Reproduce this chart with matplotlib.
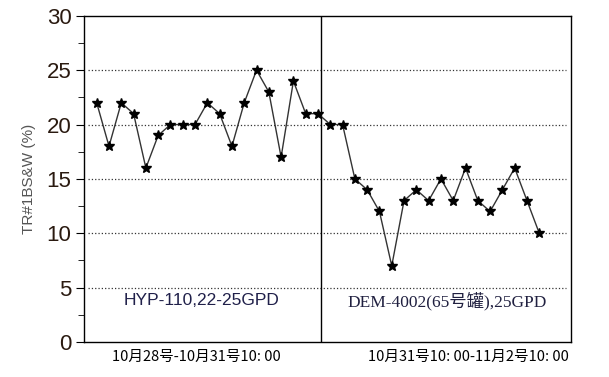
import matplotlib.pyplot as plt
from matplotlib.ticker import MultipleLocator

plt.rcParams['font.family'] = ['Liberation Sans', 'Noto Sans CJK SC']

# BS&W readings, first period (HYP-110) then second period (DEM-4002)
hyp_values = [22, 18, 22, 21, 16, 19, 20, 20, 20, 22, 21, 18, 22, 25, 23, 17, 24, 21, 21]
dem_values = [20, 20, 15, 14, 12, 7, 13, 14, 13, 15, 13, 16, 13, 12, 14, 16, 13, 10]
values = hyp_values + dem_values
sample_no = list(range(len(values)))

split_at = 18.25
y_ticks = [0, 5, 10, 15, 20, 25, 30]
grid_levels = [5, 10, 15, 20, 25]
period_names = ['HYP-110,22-25GPD', 'DEM-4002(65号罐),25GPD']
period_times = ['10月28号-10月31号10: 00', '10月31号10: 00-11月2号10: 00']

fig = plt.figure(figsize=(6.09, 3.77), dpi=100)
ax = fig.add_axes([0.138, 0.093, 0.800, 0.865])

for lvl in grid_levels:
  ax.axhline(lvl, xmin=0.008, xmax=0.99, color='#333333', linestyle=':', linewidth=0.9, zorder=1)

ax.plot(sample_no, values, color='#333333', linewidth=1.0, marker='*',
        markersize=7.5, markerfacecolor='black', markeredgecolor='black', zorder=3)

ax.axvline(split_at, color='black', linewidth=1.0)

ax.set_xlim(-1.03, 38.6)
ax.set_ylim(0, 30)
ax.set_yticks(y_ticks)
ax.yaxis.set_minor_locator(MultipleLocator(2.5))
ax.tick_params(axis='y', which='major', direction='out', length=6, labelsize=16, labelcolor='#2a1a10', pad=3)
ax.tick_params(axis='y', which='minor', direction='out', length=4)
ax.set_xticks([])
for side in ax.spines.values():
  side.set_linewidth(1.0)

ax.set_ylabel('TR#1BS&W (%)', fontsize=11, color='#555555', labelpad=8)

ax.text(8.5, 3.8, period_names[0], fontsize=12.5, color='#20204a', ha='center', va='center')
ax.text(28.5, 3.8, period_names[1], fontsize=12.5, color='#202040', ha='center', va='center',
        family=['Liberation Serif', 'Noto Sans CJK SC'])

ax.text(8.1, -1.35, period_times[0], fontsize=10.5, ha='center', va='center',
        family=['Noto Sans CJK SC', 'DejaVu Sans'])
ax.text(30.2, -1.35, period_times[1], fontsize=10.5, ha='center', va='center',
        family=['Noto Sans CJK SC', 'DejaVu Sans'])

fig.savefig('out.png', dpi=100)
